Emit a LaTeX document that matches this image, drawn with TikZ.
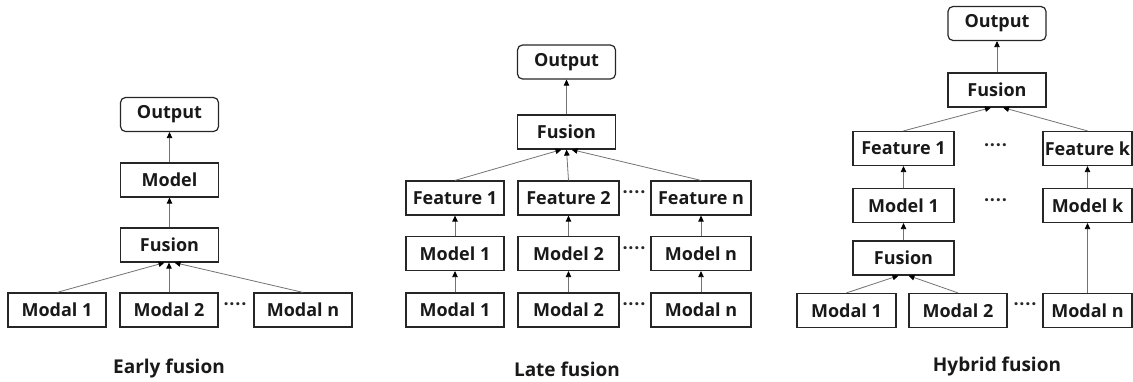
\documentclass[tikz,border=0pt]{standalone}
\usepackage{fontspec}
\setmainfont{Open Sans}
\usetikzlibrary{arrows.meta}
\tikzset{
  box/.style={draw=black!85, line width=1.2pt, rectangle, inner sep=0pt,
    minimum height=34pt, minimum width=98pt,
    font=\fontsize{18}{20}\selectfont\bfseries, text=black!90},
  outbox/.style={box, rounded corners=5pt},
  arr/.style={draw=black!55, line width=0.8pt,
    -{Triangle[length=6pt,width=5.5pt,color=black]}},
  gap/.style={inner sep=0pt, font=\fontsize{18}{20}\selectfont\bfseries, text=black!85},
  caption/.style={inner sep=0pt, font=\fontsize{19}{22}\selectfont\bfseries, text=black!90}
}
\newcommand{\gapdots}{·\hspace{0.8pt}·\hspace{0.8pt}·\hspace{0.8pt}·}
\begin{document}
\begin{tikzpicture}[x=1pt,y=-1pt]
\useasboundingbox (0,0) rectangle (1133,381);

% ---------- Early fusion ----------
\node[outbox] (eOut) at (169.5,114.5) {Output};
\node[box] (eModel) at (169.5,180) {Model};
\node[box] (eFus) at (169.5,245) {Fusion};
\node[box] (eM1) at (57,310) {Modal 1};
\node[box] (eM2) at (169,310) {Modal 2};
\node[box] (eMn) at (303,310) {Modal n};
\node[gap] (eDots) at (235,307) {\gapdots};
\node[caption] (eCap) at (169,369) {Early fusion};
\draw[arr] (eModel) -- (eOut);
\draw[arr] (eFus) -- (eModel);
\draw[arr] (eM1.north) -- ([xshift=-5pt]eFus.south);
\draw[arr] (eM2.north) -- ([xshift=-0.5pt]eFus.south);
\draw[arr] (eMn.north) -- ([xshift=5pt]eFus.south);

% ---------- Late fusion ----------
\node[outbox] (lOut) at (566.5,62) {Output};
\node[box] (lFus) at (566.5,132) {Fusion};
\node[box] (lF1) at (455,198) {Feature 1};
\node[box, minimum width=101pt] (lF2) at (568.5,198) {Feature 2};
\node[box, minimum width=100pt] (lFn) at (701,198) {Feature n};
\node[box] (lMo1) at (455,253.5) {Model 1};
\node[box, minimum width=101pt] (lMo2) at (568.5,253.5) {Model 2};
\node[box, minimum width=100pt] (lMon) at (701,253.5) {Model n};
\node[box] (lMd1) at (455,310) {Modal 1};
\node[box, minimum width=101pt] (lMd2) at (568.5,310) {Modal 2};
\node[box, minimum width=100pt] (lMdn) at (701,310) {Modal n};
\node[gap] (lDotsF) at (634,195) {\gapdots};
\node[gap] (lDotsMo) at (634,250.5) {\gapdots};
\node[gap] (lDotsMd) at (634,307) {\gapdots};
\node[caption] (lCap) at (567,369) {Late fusion};
\draw[arr] (lFus) -- (lOut);
\draw[arr] (lF1.north) -- ([xshift=-5pt]lFus.south);
\draw[arr] (lF2.north) -- ([xshift=0pt]lFus.south);
\draw[arr] (lFn.north) -- ([xshift=5pt]lFus.south);
\draw[arr] (lMo1) -- (lF1);
\draw[arr] (lMo2) -- (lF2);
\draw[arr] (lMon) -- (lFn);
\draw[arr] (lMd1) -- (lMo1);
\draw[arr] (lMd2) -- (lMo2);
\draw[arr] (lMdn) -- (lMon);

% ---------- Hybrid fusion ----------
\node[outbox] (hOut) at (997,23.5) {Output};
\node[box] (hFus) at (997,90) {Fusion};
\node[box, minimum width=101pt] (hF1) at (903.5,148.5) {Feature 1};
\node[box, minimum width=89pt] (hFk) at (1087.5,148.5) {Feature k};
\node[box, minimum width=101pt] (hMo1) at (903.5,205.5) {Model 1};
\node[box, minimum width=89pt] (hMok) at (1087.5,205.5) {Model k};
\node[box, minimum width=101pt] (hFus2) at (903.5,258) {Fusion};
\node[box, minimum width=99pt] (hMd1) at (846.5,310.5) {Modal 1};
\node[box] (hMd2) at (958,310.5) {Modal 2};
\node[box, minimum width=89pt] (hMdn) at (1087.5,310.5) {Modal n};
\node[gap] (hDotsF) at (995.5,147.5) {\gapdots};
\node[gap] (hDotsMo) at (995.5,202.5) {\gapdots};
\node[gap] (hDotsMd) at (1025,307) {\gapdots};
\node[caption] (hCap) at (997,367) {Hybrid fusion};
\draw[arr] (hFus) -- (hOut);
\draw[arr] (hF1.north) -- ([xshift=-6pt]hFus.south);
\draw[arr] (hFk.north) -- ([xshift=6pt]hFus.south);
\draw[arr] (hMo1) -- (hF1);
\draw[arr] (hMok) -- (hFk);
\draw[arr] (hFus2) -- (hMo1);
\draw[arr] (hMd1.north) -- ([xshift=-5pt]hFus2.south);
\draw[arr] (hMd2.north) -- ([xshift=5pt]hFus2.south);
\draw[arr] (hMdn) -- (hMok);
\end{tikzpicture}
\end{document}
